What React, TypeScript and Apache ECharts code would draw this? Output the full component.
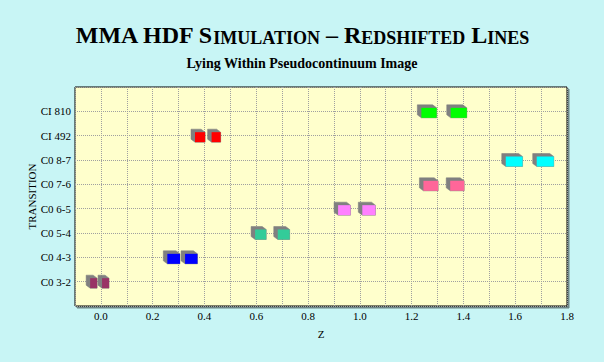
import React, { useEffect, useRef } from "react";
import * as echarts from "echarts";

const transitions = ["C0 3-2", "C0 4-3", "C0 5-4", "C0 6-5", "C0 7-6", "C0 8-7", "CI 492", "CI 810"];
const transitionColors = ["#993366", "#0000ff", "#33cc99", "#ff80ff", "#ff6699", "#00ffff", "#ff0000", "#00ff00"];
// centre redshift of each observed box (two per transition)
const boxCenters = [
  [-0.028, 0.018],
  [0.281, 0.349],
  [0.617, 0.706],
  [0.94, 1.035],
  [1.274, 1.376],
  [1.596, 1.716],
  [0.383, 0.445],
  [1.267, 1.382],
];
// redshift width of each box
const boxWidths = [
  [0.027, 0.027],
  [0.049, 0.048],
  [0.043, 0.046],
  [0.048, 0.051],
  [0.057, 0.054],
  [0.065, 0.066],
  [0.039, 0.035],
  [0.059, 0.062],
];
const xTickLabels = ["0.0", "0.2", "0.4", "0.6", "0.8", "1.0", "1.2", "1.4", "1.6", "1.8"];

export default function App() {
  const ref = useRef<HTMLDivElement>(null);
  useEffect(() => {
    if (!ref.current) return;
    const chart = echarts.init(ref.current, null, { renderer: "svg" });
    const data: any[] = [];
    transitions.forEach((t, i) => {
      boxCenters[i].forEach((c, j) => {
        const w = boxWidths[i][j];
        data.push([c - w / 2, c + w / 2, i, i]);
      });
    });
    const serif = "Liberation Serif";
    chart.setOption({
      animation: false,
      backgroundColor: "#c8f5f5",
      title: [
        {
          left: "center",
          top: 18,
          text: "{a|MMA HDF S}{b|IMULATION}{a| – R}{b|EDSHIFTED}{a| L}{b|INES}",
          textStyle: {
            rich: {
              a: { fontFamily: serif, fontWeight: "bold", fontSize: 24, color: "#000", lineHeight: 24, verticalAlign: "bottom" },
              b: { fontFamily: serif, fontWeight: "bold", fontSize: 18, color: "#000", lineHeight: 24, verticalAlign: "bottom" },
            },
          },
        },
        {
          left: "center",
          top: 51,
          text: "Lying Within Pseudocontinuum Image",
          textStyle: { fontFamily: serif, fontWeight: "bold", fontSize: 14, color: "#000" },
        },
      ],
      grid: {
        left: 75,
        right: 37,
        top: 87,
        bottom: 56,
        show: true,
        backgroundColor: "#ffffcc",
        borderColor: "#000",
        borderWidth: 1,
        shadowColor: "rgba(0,0,0,0.45)",
        shadowOffsetX: 2,
        shadowOffsetY: 2,
        shadowBlur: 0,
      },
      xAxis: {
        type: "value",
        min: -0.1,
        max: 1.8,
        interval: 0.1,
        name: "Z",
        nameLocation: "middle",
        nameGap: 22,
        nameTextStyle: { fontFamily: serif, fontSize: 11, color: "#000" },
        axisLine: { show: false },
        axisTick: { show: false },
        axisLabel: {
          margin: 4,
          fontFamily: serif,
          fontSize: 11,
          color: "#000",
          formatter: (v: number) => {
            const k = Math.round(v * 10);
            if (k < 0 || k % 2 !== 0) return "";
            return xTickLabels[k / 2] ?? "";
          },
        },
        splitLine: { show: true, lineStyle: { type: "dotted", color: "#a0a0a0", width: 1 } },
      },
      yAxis: {
        type: "value",
        min: -1,
        max: 8,
        interval: 1,
        name: "TRANSITION",
        nameLocation: "middle",
        nameGap: 38,
        nameMoveOverlap: false,
        nameRotate: 90,
        nameTextStyle: { fontFamily: serif, fontSize: 11, color: "#000" },
        axisLine: { show: false },
        axisTick: { show: false },
        axisLabel: {
          margin: 4,
          fontFamily: serif,
          fontSize: 11,
          color: "#000",
          formatter: (v: number) => transitions[Math.round(v)] ?? "",
        },
        splitLine: { show: true, lineStyle: { type: "dotted", color: "#a0a0a0", width: 1 } },
      },
      series: [
        {
          type: "custom",
          data,
          renderItem: (params: any, api: any) => {
            const lo = api.coord([api.value(0), api.value(2)]);
            const hi = api.coord([api.value(1), api.value(2)]);
            const ci = api.value(3);
            const h = 10;
            const dx = 4;
            const dy = 3;
            const x0 = lo[0];
            const x1 = hi[0];
            const y0 = lo[1] - h / 2 + 1.5;
            const y1 = y0 + h;
            return {
              type: "group",
              children: [
                {
                  type: "polygon",
                  shape: {
                    points: [
                      [x0 - dx, y0 - dy],
                      [x1 - dx, y0 - dy],
                      [x1, y0],
                      [x1, y1],
                      [x0, y1],
                      [x0 - dx, y1 - dy],
                    ],
                  },
                  style: { fill: "#808080", stroke: "#7a7a7a", lineWidth: 0.5 },
                },
                {
                  type: "rect",
                  shape: { x: x0, y: y0, width: x1 - x0, height: h },
                  style: { fill: transitionColors[ci] },
                },
              ],
            };
          },
        },
      ],
    });
    return () => chart.dispose();
  }, []);
  return <div ref={ref} style={{ width: 604, height: 362, position: "absolute", left: 0, top: 0 }} />;
}
